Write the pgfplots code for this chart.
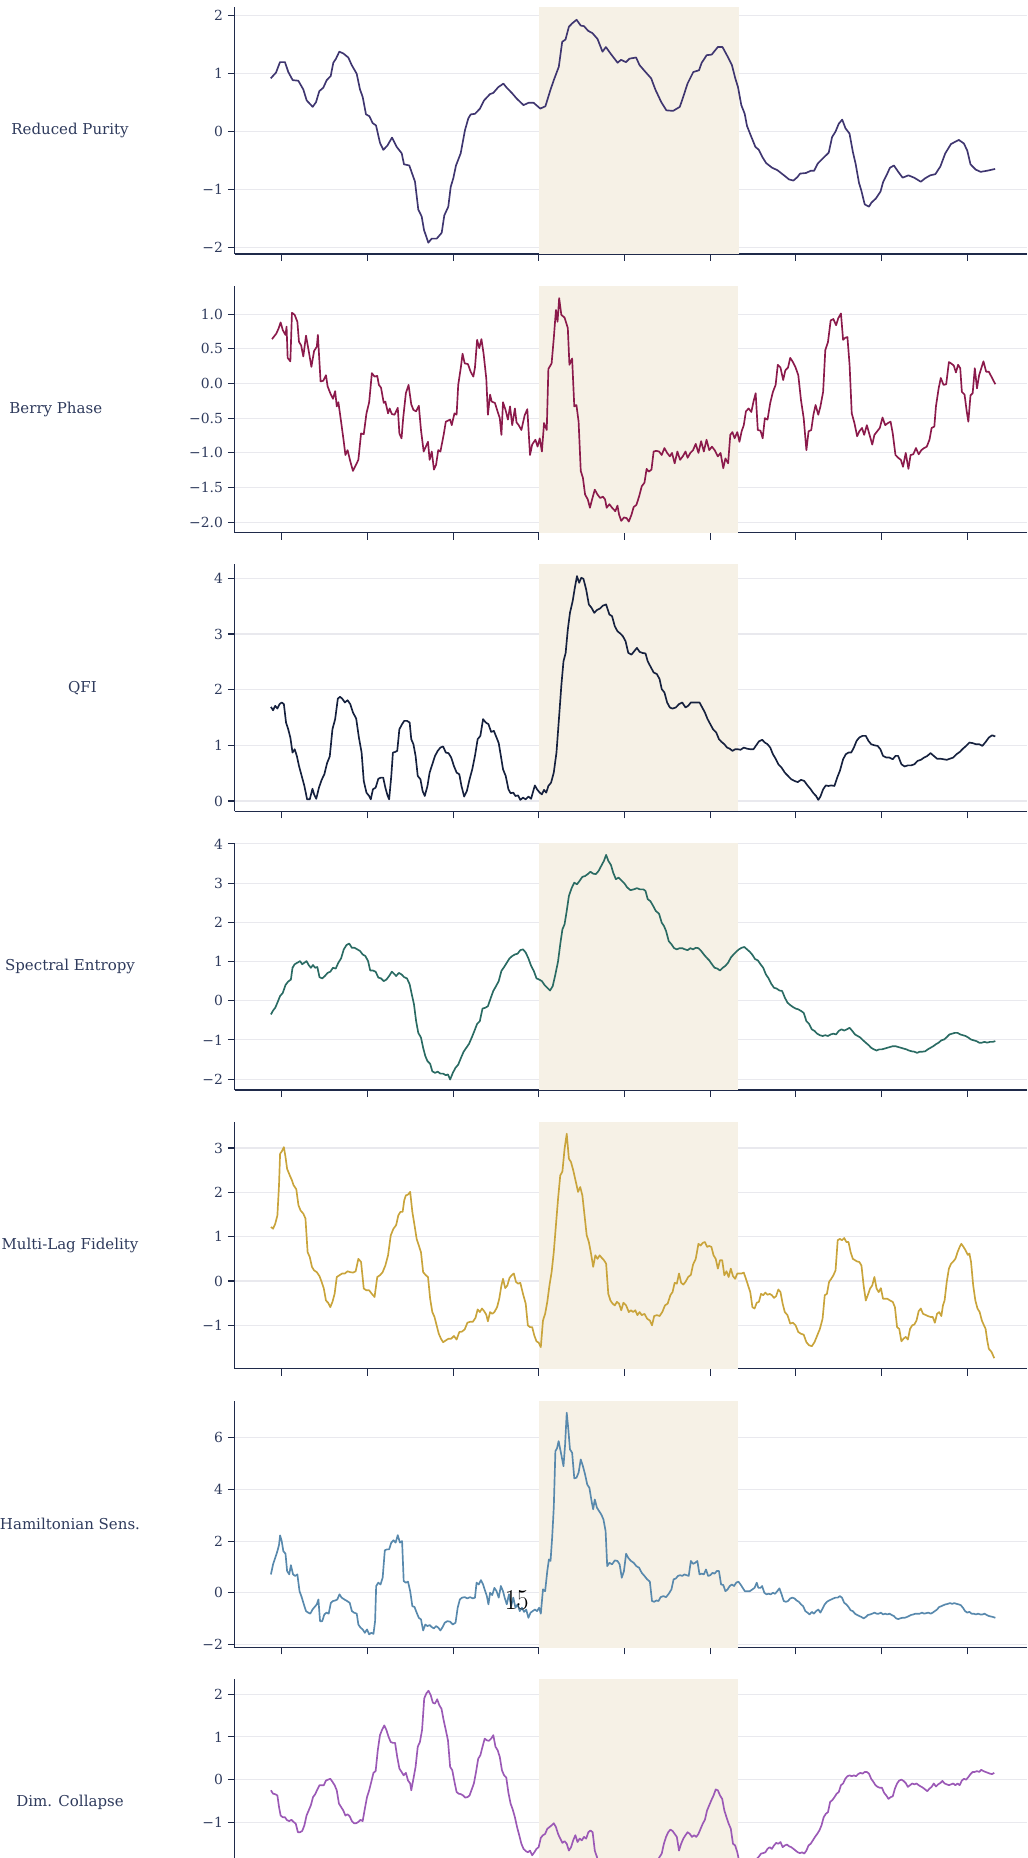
\documentclass[border=0pt]{standalone}
\usepackage{fontspec}
\setmainfont{DejaVu Serif}
\usepackage{pgfplots}
\pgfplotsset{compat=1.18}
\definecolor{spine}{HTML}{1F2A4A}
\definecolor{tickc}{HTML}{2E3A5C}
\definecolor{gridc}{HTML}{E9E9EE}
\definecolor{shadec}{HTML}{F6F1E6}
\definecolor{c1}{HTML}{3F3670}
\definecolor{c2}{HTML}{8B1A4B}
\definecolor{c3}{HTML}{16213E}
\definecolor{c4}{HTML}{2A6B63}
\definecolor{c5}{HTML}{C9A43B}
\definecolor{c6}{HTML}{5889AD}
\definecolor{c7}{HTML}{9B59B6}
\pgfplotsset{
 panel/.style={
  scale only axis, width=570.46pt, height=177.84pt, anchor=south west,
  axis x line*=bottom, axis y line*=left,
  axis line style={-, draw=spine, line width=0.9pt},
  tick align=outside, major tick length=5pt,
  major tick style={draw=spine, line width=0.8pt},
  xticklabels={},
  ymajorgrids, major grid style={draw=gridc, line width=0.8pt},
  yticklabel style={font=\fontsize{10}{12}\selectfont, text=tickc},
  set layers, clip=true,
 },
 zp/.style={xmin=100.9, xmax=1568.7, xtick={188,346.75,505.5,664.25,823,981.75,1140.5,1299.25,1458}},
 ln/.style={line width=1.2pt, line join=round, mark=none},
}
\begin{document}
\begin{tikzpicture}
% ---------- Panel 1: Reduced Purity
\begin{axis}[panel, at={(168.98pt,-182.88pt)},
  xmin=234.7, xmax=1027, xtick={281.7,367.39,453.08,538.77,624.46,710.15,795.84,881.53,967.22},
  ymin=-2.115, ymax=2.14, ytick={-2,-1,0,1,2}, yticklabels={−2,−1,0,1,2}]
\fill[shadec, on layer=axis background] (axis cs:538.9,-2.115) rectangle (axis cs:739,2.14);
\addplot[ln, c1] coordinates {(270.7,0.91)(276,1.01)(280,1.19)(285,1.19)(288.3,1.02)(292.7,0.88)(298.3,0.87)(303.3,0.72)(306.7,0.53)(312.7,0.42)(316,0.50)(319.3,0.69)(323.3,0.75)(326.7,0.88)(330.7,0.95)(333.3,1.18)(336,1.25)(339.3,1.37)(343.3,1.34)(348.3,1.27)(351.7,1.14)(356.7,0.99)(360,0.72)(362.7,0.59)(366,0.29)(369.3,0.26)(372.7,0.14)(376,0.10)(380,-0.20)(383.3,-0.32)(387.3,-0.25)(392,-0.11)(396.7,-0.27)(401.7,-0.38)(404,-0.57)(409.3,-0.59)(415,-0.87)(418.3,-1.35)(421.7,-1.47)(424,-1.70)(428.3,-1.92)(431.7,-1.85)(436.7,-1.85)(441.7,-1.75)(444.3,-1.45)(448.3,-1.30)(450.7,-0.96)(453.3,-0.81)(456,-0.59)(460.7,-0.38)(465,0.02)(468.3,0.22)(470.7,0.29)(475,0.30)(480,0.39)(484,0.53)(490,0.64)(493.3,0.66)(498.3,0.76)(503.4,0.82)(506.7,0.75)(511.8,0.66)(516.8,0.56)(523.5,0.45)(528.6,0.49)(533.6,0.49)(540.3,0.39)(545.4,0.43)(550.4,0.71)(553.8,0.88)(558.8,1.11)(562.2,1.54)(565.5,1.58)(568.9,1.80)(572.3,1.86)(576.6,1.92)(580.7,1.82)(584.0,1.81)(588.1,1.73)(592.4,1.69)(597.5,1.59)(602.5,1.37)(605.9,1.45)(610.9,1.33)(617.6,1.18)(621.0,1.23)(626.0,1.19)(629.4,1.25)(636.1,1.27)(639.5,1.14)(644.5,1.04)(651.2,0.91)(655.3,0.72)(661.3,0.50)(666.4,0.36)(673.1,0.35)(679.8,0.42)(683.2,0.59)(687.5,0.82)(693.3,1.02)(699.0,1.05)(701.7,1.18)(706.7,1.31)(711.7,1.32)(717.8,1.45)(722.5,1.45)(726.9,1.31)(731.9,1.14)(735.3,0.91)(738.0,0.76)(741.3,0.45)(744.7,0.30)(747.0,0.09)(751.4,-0.10)(755.4,-0.27)(758.8,-0.32)(762.2,-0.44)(766.2,-0.55)(772.2,-0.63)(777.3,-0.67)(784.0,-0.76)(789.0,-0.83)(793.4,-0.85)(797.4,-0.79)(800.1,-0.73)(805.9,-0.72)(810.9,-0.68)(814.2,-0.68)(817.6,-0.56)(822.7,-0.47)(828.7,-0.37)(832.1,-0.10)(835.4,-0.01)(838.8,0.13)(842.2,0.20)(845.5,0.05)(849.5,-0.04)(852.9,-0.36)(855.6,-0.56)(859.0,-0.89)(861.3,-1.02)(864.7,-1.26)(869.0,-1.30)(871.4,-1.23)(875.8,-1.16)(880.5,-1.04)(883.2,-0.87)(886.5,-0.76)(889.9,-0.63)(893.9,-0.59)(898.3,-0.70)(902.6,-0.80)(908.4,-0.76)(914.1,-0.80)(920.8,-0.87)(925.2,-0.81)(930.2,-0.76)(935.3,-0.74)(940.3,-0.61)(945.3,-0.38)(951.0,-0.22)(958.8,-0.15)(963.8,-0.21)(967.2,-0.33)(970.5,-0.57)(975.6,-0.66)(980.6,-0.70)(987.3,-0.68)(995.1,-0.65)};
\end{axis}
% ---------- Panel 2: Berry Phase
\begin{axis}[panel, zp, at={(168.98pt,-383.54pt)},
  ymin=-2.15, ymax=1.41, ytick={-2,-1.5,-1,-0.5,0,0.5,1}, yticklabels={−2.0,−1.5,−1.0,−0.5,0.0,0.5,1.0}]
\fill[shadec, on layer=axis background] (axis cs:665,-2.15) rectangle (axis cs:1034,1.41);
\addplot[ln, c2] coordinates {(170,0.64)(178,0.72)(182,0.79)(186,0.88)(190,0.77)(195,0.70)(197,0.82)(199,0.37)(204,0.32)(207,1.02)(212,0.99)(217,0.89)(220,0.60)(224,0.55)(228,0.39)(233,0.69)(238,0.47)(243,0.24)(248,0.47)(253,0.53)(255,0.70)(260,0.03)(265,0.04)(270,0.12)(273,-0.04)(278,-0.14)(283,-0.22)(287,-0.11)(290,-0.33)(293,-0.27)(298,-0.55)(303,-0.84)(306,-1.03)(310,-0.96)(315,-1.12)(320,-1.26)(325,-1.18)(330,-1.10)(335,-0.72)(340,-0.73)(345,-0.43)(350,-0.27)(355,0.15)(360,0.10)(365,0.11)(368,-0.02)(372,-0.06)(377,-0.28)(380,-0.26)(385,-0.43)(388,-0.36)(392,-0.44)(397,-0.45)(403,-0.35)(406,-0.72)(410,-0.79)(413,-0.50)(418,-0.14)(423,-0.02)(428,-0.30)(432,-0.38)(437,-0.40)(442,-0.32)(446,-0.67)(451,-0.98)(455,-0.91)(459,-0.84)(462,-1.10)(466,-0.98)(470,-1.24)(474,-1.17)(478,-0.96)(482,-0.98)(488,-0.74)(492,-0.55)(500,-0.52)(503,-0.60)(508,-0.43)(512,-0.45)(515,-0.02)(520,0.24)(523,0.43)(527,0.29)(533,0.28)(538,0.17)(543,0.10)(546,0.23)(550,0.63)(554,0.51)(558,0.64)(562,0.43)(567,0.07)(570,-0.45)(574,-0.16)(577,-0.26)(583,-0.28)(587,-0.38)(592,-0.50)(595,-0.74)(598,-0.27)(603,-0.39)(607,-0.52)(611,-0.33)(615,-0.60)(620,-0.36)(623,-0.56)(627,-0.60)(632,-0.67)(638,-0.46)(643,-0.37)(648,-1.03)(652,-0.88)(658,-0.81)(662,-0.91)(666,-0.79)(670,-0.98)(674,-0.57)(679,-0.67)(682,0.21)(688,0.29)(692,0.65)(696,1.06)(699,0.89)(702,1.23)(706,0.99)(712,0.95)(718,0.80)(721,0.27)(726,0.36)(730,-0.33)(734,-0.31)(738,-0.55)(742,-1.26)(746,-1.36)(750,-1.60)(755,-1.67)(759,-1.79)(763,-1.67)(768,-1.53)(773,-1.60)(778,-1.65)(783,-1.63)(787,-1.67)(790,-1.79)(795,-1.74)(800,-1.79)(806,-1.84)(810,-1.76)(813,-1.89)(817,-1.98)(822,-1.93)(827,-1.94)(831,-1.99)(836,-1.89)(840,-1.78)(845,-1.75)(850,-1.63)(855,-1.48)(860,-1.43)(864,-1.23)(868,-1.27)(873,-1.24)(877,-0.98)(882,-0.97)(887,-0.98)(892,-1.03)(897,-0.93)(902,-1.00)(907,-1.05)(911,-1.00)(916,-1.15)(921,-0.98)(926,-1.10)(931,-1.05)(936,-0.98)(940,-1.07)(945,-1.00)(950,-0.96)(955,-0.87)(960,-1.00)(965,-0.83)(970,-0.98)(975,-0.81)(980,-0.96)(985,-0.91)(990,-0.96)(996,-1.05)(1001,-1.00)(1006,-1.22)(1010,-1.08)(1015,-1.15)(1019,-0.74)(1023,-0.70)(1027,-0.79)(1032,-0.70)(1036,-0.84)(1040,-0.69)(1044,-0.60)(1048,-0.40)(1053,-0.36)(1058,-0.41)(1062,-0.26)(1066,-0.14)(1070,-0.67)(1075,-0.68)(1079,-0.79)(1083,-0.50)(1088,-0.52)(1093,-0.28)(1098,-0.12)(1103,-0.02)(1107,0.27)(1112,0.23)(1117,0.05)(1121,0.19)(1126,0.23)(1130,0.37)(1135,0.31)(1140,0.23)(1145,0.12)(1150,-0.24)(1155,-0.50)(1160,-0.96)(1164,-0.69)(1169,-0.67)(1173,-0.45)(1177,-0.31)(1182,-0.45)(1186,-0.33)(1191,-0.12)(1195,0.48)(1200,0.60)(1205,0.91)(1210,0.93)(1215,0.84)(1219,0.94)(1224,1.01)(1228,0.63)(1232,0.66)(1236,0.67)(1240,0.27)(1244,-0.43)(1249,-0.57)(1254,-0.76)(1258,-0.69)(1263,-0.64)(1267,-0.74)(1272,-0.60)(1277,-0.74)(1282,-0.88)(1286,-0.74)(1291,-0.69)(1296,-0.64)(1301,-0.49)(1306,-0.60)(1311,-0.57)(1316,-0.55)(1320,-0.72)(1325,-1.03)(1330,-1.07)(1335,-1.10)(1339,-1.20)(1344,-1.00)(1349,-1.23)(1353,-1.03)(1358,-1.02)(1363,-0.93)(1368,-1.02)(1373,-0.96)(1378,-0.93)(1383,-0.91)(1388,-0.81)(1392,-0.64)(1397,-0.62)(1400,-0.33)(1405,-0.07)(1409,0.08)(1414,-0.02)(1419,-0.01)(1424,0.31)(1428,0.29)(1433,0.26)(1437,0.16)(1441,0.27)(1445,0.22)(1448,-0.12)(1453,-0.16)(1457,-0.40)(1460,-0.55)(1464,-0.17)(1468,-0.14)(1472,0.22)(1476,-0.07)(1480,0.12)(1484,0.22)(1488,0.32)(1493,0.17)(1498,0.17)(1504,0.08)(1510,-0.01)};
\end{axis}
% ---------- Panel 3: QFI
\begin{axis}[panel, zp, at={(168.98pt,-584.21pt)},
  ymin=-0.187, ymax=4.25, ytick={0,1,2,3,4}, yticklabels={0,1,2,3,4}]
\fill[shadec, on layer=axis background] (axis cs:665,-0.187) rectangle (axis cs:1034,4.25);
\addplot[ln, c3] coordinates {(168,1.69)(172,1.63)(176,1.71)(180,1.66)(184,1.74)(188,1.77)(192,1.74)(196,1.41)(200,1.29)(204,1.14)(208,0.87)(212,0.93)(216,0.81)(220,0.63)(225,0.45)(230,0.27)(235,0.03)(240,0.03)(245,0.22)(248,0.12)(252,0.04)(257,0.24)(262,0.38)(267,0.48)(272,0.68)(277,0.80)(282,1.29)(287,1.47)(292,1.84)(296,1.87)(300,1.84)(305,1.77)(310,1.81)(315,1.74)(320,1.59)(326,1.48)(331,1.14)(336,0.87)(340,0.36)(345,0.15)(350,0.09)(353,0.03)(357,0.21)(362,0.24)(367,0.40)(372,0.42)(376,0.42)(380,0.24)(384,0.10)(387,0.03)(391,0.45)(394,0.87)(398,0.88)(402,0.90)(406,1.29)(411,1.38)(415,1.44)(420,1.44)(425,1.41)(428,1.11)(432,1.02)(436,0.81)(440,0.45)(445,0.39)(449,0.18)(453,0.09)(458,0.27)(462,0.51)(467,0.66)(472,0.81)(477,0.90)(482,0.96)(487,0.98)(492,0.87)(497,0.86)(502,0.78)(507,0.63)(512,0.51)(517,0.48)(521,0.27)(526,0.08)(531,0.18)(536,0.39)(541,0.57)(546,0.81)(551,1.11)(556,1.17)(561,1.47)(566,1.41)(571,1.38)(576,1.24)(581,1.26)(586,1.14)(590,1.04)(594,0.81)(598,0.57)(603,0.45)(608,0.21)(612,0.14)(617,0.15)(621,0.09)(626,0.10)(630,0.02)(635,0.06)(640,0.03)(645,0.08)(650,0.04)(654,0.18)(657,0.28)(661,0.21)(666,0.15)(670,0.12)(674,0.20)(678,0.15)(682,0.27)(687,0.33)(692,0.51)(697,0.87)(702,1.53)(706,2.07)(710,2.51)(714,2.66)(718,3.08)(722,3.38)(727,3.59)(731,3.83)(735,4.04)(739,3.92)(743,4.01)(747,3.99)(752,3.80)(757,3.53)(762,3.47)(767,3.38)(772,3.43)(778,3.46)(783,3.51)(789,3.53)(795,3.35)(800,3.32)(805,3.14)(810,3.05)(815,3.01)(820,2.96)(825,2.87)(830,2.66)(836,2.63)(841,2.69)(846,2.75)(851,2.68)(856,2.66)(862,2.65)(866,2.51)(872,2.40)(877,2.31)(883,2.28)(888,2.19)(892,2.01)(897,1.95)(902,1.77)(907,1.68)(912,1.66)(918,1.68)(924,1.74)(930,1.77)(936,1.68)(941,1.71)(946,1.77)(951,1.77)(956,1.77)(962,1.77)(967,1.68)(972,1.59)(977,1.47)(982,1.38)(987,1.29)(993,1.23)(998,1.11)(1003,1.06)(1008,1.02)(1013,0.96)(1018,0.94)(1023,0.90)(1028,0.93)(1033,0.93)(1038,0.92)(1044,0.96)(1050,0.94)(1056,0.93)(1062,0.93)(1067,1.00)(1072,1.07)(1078,1.10)(1083,1.05)(1088,1.02)(1093,0.96)(1098,0.84)(1103,0.76)(1108,0.66)(1114,0.60)(1120,0.51)(1126,0.45)(1132,0.39)(1138,0.36)(1144,0.34)(1150,0.38)(1156,0.36)(1162,0.28)(1168,0.21)(1173,0.14)(1178,0.09)(1182,0.02)(1186,0.08)(1191,0.21)(1196,0.28)(1201,0.27)(1206,0.28)(1212,0.27)(1217,0.42)(1222,0.54)(1228,0.75)(1233,0.84)(1238,0.87)(1243,0.87)(1248,0.96)(1253,1.08)(1258,1.14)(1264,1.17)(1270,1.17)(1275,1.08)(1280,1.02)(1286,1.00)(1292,0.99)(1297,0.93)(1302,0.81)(1308,0.78)(1314,0.78)(1320,0.75)(1325,0.81)(1330,0.81)(1336,0.66)(1342,0.62)(1348,0.64)(1354,0.64)(1360,0.66)(1366,0.72)(1372,0.74)(1378,0.78)(1384,0.81)(1390,0.86)(1396,0.81)(1402,0.76)(1408,0.76)(1414,0.75)(1420,0.74)(1426,0.76)(1432,0.78)(1438,0.84)(1444,0.88)(1450,0.94)(1456,0.99)(1462,1.05)(1468,1.04)(1474,1.02)(1480,1.02)(1486,0.99)(1492,1.06)(1498,1.14)(1504,1.18)(1510,1.16)};
\end{axis}
% ---------- Panel 4: Spectral Entropy
\begin{axis}[panel, zp, at={(168.98pt,-784.87pt)},
  ymin=-2.28, ymax=4.02, ytick={-2,-1,0,1,2,3,4}, yticklabels={−2,−1,0,1,2,3,4}]
\fill[shadec, on layer=axis background] (axis cs:665,-2.28) rectangle (axis cs:1034,4.02);
\addplot[ln, c4] coordinates {(168,-0.35)(172,-0.25)(176,-0.18)(180,-0.05)(185,0.12)(190,0.20)(195,0.40)(200,0.49)(205,0.54)(208,0.84)(212,0.93)(217,0.97)(222,1.01)(226,0.93)(230,0.97)(234,1.01)(238,0.91)(242,0.84)(246,0.91)(250,0.84)(254,0.86)(258,0.60)(263,0.57)(268,0.63)(273,0.71)(278,0.74)(283,0.84)(288,0.82)(293,0.97)(298,1.08)(303,1.31)(308,1.42)(313,1.46)(318,1.35)(323,1.35)(328,1.31)(333,1.27)(338,1.18)(343,1.14)(348,1.01)(352,0.77)(357,0.77)(362,0.74)(367,0.59)(372,0.57)(377,0.50)(382,0.54)(387,0.63)(392,0.74)(396,0.69)(400,0.63)(405,0.71)(410,0.67)(415,0.60)(420,0.57)(425,0.42)(429,0.16)(433,-0.09)(437,-0.52)(441,-0.82)(446,-0.94)(450,-1.20)(454,-1.41)(458,-1.54)(463,-1.61)(467,-1.80)(472,-1.84)(477,-1.81)(482,-1.86)(487,-1.86)(492,-1.90)(496,-1.88)(500,-2.01)(505,-1.84)(510,-1.71)(515,-1.63)(520,-1.46)(525,-1.30)(530,-1.20)(535,-1.10)(540,-0.94)(545,-0.77)(550,-0.59)(555,-0.52)(560,-0.20)(565,-0.18)(570,-0.14)(575,0.06)(580,0.25)(585,0.37)(590,0.50)(595,0.76)(600,0.86)(605,0.97)(610,1.08)(615,1.14)(620,1.18)(625,1.20)(630,1.29)(635,1.31)(640,1.23)(645,1.08)(650,0.89)(655,0.76)(660,0.57)(665,0.54)(670,0.50)(675,0.40)(680,0.33)(685,0.26)(690,0.37)(695,0.67)(700,1.01)(704,1.44)(708,1.82)(712,1.95)(716,2.29)(720,2.67)(725,2.87)(730,3.01)(735,2.97)(740,3.06)(745,3.16)(750,3.18)(755,3.23)(760,3.29)(765,3.24)(770,3.23)(775,3.31)(780,3.44)(785,3.57)(789,3.72)(793,3.57)(798,3.46)(802,3.27)(807,3.10)(812,3.14)(818,3.06)(823,2.99)(828,2.89)(834,2.82)(840,2.84)(846,2.87)(852,2.84)(858,2.84)(862,2.80)(866,2.59)(871,2.54)(876,2.42)(881,2.29)(887,2.22)(892,1.99)(896,1.91)(900,1.78)(905,1.52)(910,1.44)(915,1.34)(920,1.31)(925,1.34)(930,1.34)(935,1.31)(940,1.29)(945,1.34)(950,1.31)(955,1.35)(960,1.34)(965,1.27)(970,1.18)(975,1.10)(980,1.03)(985,0.93)(990,0.84)(995,0.82)(1000,0.77)(1005,0.84)(1010,0.89)(1015,0.97)(1020,1.10)(1025,1.18)(1030,1.25)(1035,1.31)(1040,1.35)(1045,1.37)(1050,1.31)(1055,1.25)(1060,1.17)(1065,1.06)(1070,1.03)(1075,0.93)(1080,0.84)(1085,0.67)(1090,0.57)(1095,0.43)(1100,0.33)(1105,0.31)(1110,0.26)(1115,0.25)(1120,0.08)(1125,-0.05)(1130,-0.11)(1135,-0.16)(1140,-0.20)(1145,-0.22)(1150,-0.26)(1155,-0.31)(1160,-0.52)(1165,-0.59)(1170,-0.73)(1175,-0.77)(1180,-0.84)(1185,-0.88)(1190,-0.90)(1195,-0.88)(1200,-0.90)(1205,-0.86)(1210,-0.84)(1215,-0.86)(1220,-0.77)(1225,-0.73)(1230,-0.76)(1235,-0.73)(1240,-0.69)(1245,-0.77)(1250,-0.86)(1255,-0.90)(1260,-0.94)(1265,-1.01)(1270,-1.07)(1275,-1.13)(1280,-1.20)(1285,-1.24)(1290,-1.27)(1295,-1.24)(1300,-1.24)(1305,-1.22)(1310,-1.20)(1315,-1.18)(1320,-1.16)(1325,-1.16)(1330,-1.18)(1335,-1.20)(1340,-1.22)(1345,-1.24)(1350,-1.27)(1355,-1.29)(1360,-1.30)(1365,-1.33)(1370,-1.30)(1375,-1.30)(1380,-1.29)(1385,-1.24)(1390,-1.20)(1395,-1.16)(1400,-1.11)(1405,-1.07)(1410,-1.01)(1415,-0.99)(1420,-0.93)(1425,-0.86)(1430,-0.84)(1435,-0.82)(1440,-0.82)(1445,-0.86)(1450,-0.88)(1455,-0.90)(1460,-0.94)(1465,-0.99)(1470,-1.01)(1475,-1.03)(1480,-1.07)(1485,-1.07)(1490,-1.05)(1495,-1.07)(1500,-1.05)(1505,-1.05)(1510,-1.03)};
\end{axis}
% ---------- Panel 5: Multi-Lag Fidelity
\begin{axis}[panel, zp, at={(168.98pt,-985.54pt)},
  ymin=-1.98, ymax=3.59, ytick={-1,0,1,2,3}, yticklabels={−1,0,1,2,3}]
\fill[shadec, on layer=axis background] (axis cs:665,-1.98) rectangle (axis cs:1034,3.59);
\addplot[ln, c5] coordinates {(168,1.22)(172,1.18)(176,1.29)(180,1.48)(183,2.16)(185,2.87)(188,2.92)(192,3.02)(195,2.80)(198,2.53)(203,2.38)(207,2.27)(210,2.16)(215,2.07)(219,1.71)(223,1.59)(228,1.52)(232,1.41)(236,0.65)(240,0.54)(244,0.32)(248,0.24)(253,0.20)(258,0.11)(262,-0.02)(266,-0.17)(270,-0.44)(274,-0.49)(278,-0.59)(282,-0.47)(286,-0.29)(290,0.09)(295,0.13)(300,0.17)(305,0.17)(310,0.22)(315,0.20)(320,0.19)(325,0.22)(330,0.50)(335,0.43)(340,-0.17)(345,-0.21)(350,-0.21)(355,-0.29)(360,-0.36)(365,0.09)(370,0.13)(375,0.20)(380,0.35)(385,0.58)(390,1.03)(395,1.18)(400,1.26)(404,1.48)(408,1.56)(412,1.56)(415,1.82)(418,1.93)(422,1.95)(426,2.01)(430,1.56)(434,1.26)(438,0.95)(442,0.80)(446,0.65)(450,0.20)(455,0.13)(459,0.09)(463,-0.40)(467,-0.70)(471,-0.81)(475,-1.00)(479,-1.19)(483,-1.30)(487,-1.38)(492,-1.34)(497,-1.30)(502,-1.30)(507,-1.24)(512,-1.32)(517,-1.15)(522,-1.14)(527,-1.09)(532,-0.94)(537,-0.92)(542,-0.92)(547,-0.83)(551,-0.64)(555,-0.70)(559,-0.62)(563,-0.68)(567,-0.76)(570,-0.91)(574,-0.70)(578,-0.74)(582,-0.70)(587,-0.59)(591,-0.40)(595,-0.10)(598,0.05)(602,-0.16)(606,-0.10)(610,0.07)(614,0.13)(618,0.17)(622,-0.02)(626,-0.06)(630,-0.04)(635,-0.29)(640,-0.51)(644,-1.00)(648,-1.04)(652,-1.04)(656,-1.23)(660,-1.36)(664,-1.39)(668,-1.49)(672,-0.89)(676,-0.74)(680,-0.47)(684,-0.10)(688,0.20)(692,0.65)(696,1.26)(700,1.86)(704,2.38)(708,2.47)(712,2.98)(716,3.32)(720,2.76)(724,2.68)(728,2.50)(733,2.23)(737,2.01)(741,2.12)(745,1.93)(749,1.48)(753,1.03)(757,0.88)(761,0.62)(765,0.32)(769,0.58)(773,0.50)(777,0.58)(781,0.52)(785,0.47)(789,0.39)(793,-0.29)(797,-0.44)(801,-0.51)(805,-0.55)(809,-0.47)(813,-0.51)(817,-0.66)(821,-0.49)(826,-0.55)(831,-0.70)(835,-0.66)(839,-0.70)(843,-0.66)(847,-0.77)(851,-0.70)(855,-0.77)(860,-0.74)(865,-0.85)(870,-0.89)(874,-1.00)(878,-0.79)(883,-0.77)(888,-0.79)(893,-0.70)(898,-0.55)(903,-0.51)(908,-0.32)(912,-0.25)(916,-0.04)(920,-0.06)(924,0.17)(928,-0.04)(932,-0.08)(936,-0.02)(941,0.09)(946,0.14)(950,0.37)(955,0.50)(960,0.84)(964,0.80)(968,0.86)(972,0.88)(976,0.77)(980,0.79)(984,0.77)(988,0.58)(992,0.50)(996,0.28)(1000,0.47)(1004,0.47)(1008,0.13)(1012,0.22)(1016,0.09)(1020,0.28)(1024,0.11)(1028,0.05)(1032,0.17)(1036,0.17)(1040,0.17)(1044,0.19)(1048,0.05)(1052,-0.10)(1056,-0.25)(1060,-0.59)(1064,-0.62)(1068,-0.49)(1072,-0.47)(1076,-0.29)(1080,-0.32)(1084,-0.26)(1088,-0.31)(1092,-0.29)(1096,-0.32)(1100,-0.38)(1104,-0.34)(1108,-0.19)(1112,-0.25)(1116,-0.51)(1120,-0.70)(1125,-0.77)(1130,-0.96)(1135,-0.94)(1140,-1.00)(1145,-1.15)(1150,-1.19)(1155,-1.21)(1160,-1.38)(1165,-1.45)(1170,-1.47)(1175,-1.38)(1180,-1.23)(1185,-1.08)(1190,-0.85)(1194,-0.32)(1198,-0.29)(1202,-0.02)(1206,0.05)(1210,0.13)(1214,0.24)(1218,0.92)(1222,0.95)(1226,0.92)(1230,0.97)(1234,0.88)(1238,0.88)(1242,0.65)(1246,0.50)(1250,0.47)(1254,0.44)(1258,0.43)(1262,0.35)(1266,-0.10)(1270,-0.44)(1274,-0.31)(1278,-0.17)(1282,-0.10)(1286,0.09)(1290,-0.17)(1294,-0.25)(1298,-0.16)(1302,-0.40)(1306,-0.40)(1310,-0.40)(1315,-0.44)(1320,-0.47)(1324,-0.59)(1328,-1.04)(1332,-1.08)(1336,-1.36)(1340,-1.30)(1344,-1.26)(1348,-1.32)(1352,-1.08)(1356,-1.00)(1360,-0.98)(1364,-0.89)(1368,-0.68)(1372,-0.62)(1376,-0.74)(1380,-0.76)(1385,-0.79)(1390,-0.81)(1394,-0.81)(1398,-0.94)(1402,-0.74)(1406,-0.70)(1410,-0.79)(1413,-0.55)(1416,-0.44)(1420,-0.02)(1424,0.28)(1428,0.39)(1432,0.44)(1436,0.50)(1440,0.65)(1444,0.77)(1447,0.84)(1451,0.77)(1455,0.69)(1459,0.59)(1462,0.62)(1465,0.43)(1469,-0.10)(1473,-0.44)(1477,-0.62)(1481,-0.70)(1485,-0.89)(1489,-1.00)(1492,-1.08)(1495,-1.34)(1498,-1.53)(1503,-1.60)(1508,-1.74)};
\end{axis}
% ---------- Panel 6: Hamiltonian Sens.
\begin{axis}[panel, zp, at={(168.98pt,-1186.2pt)},
  ymin=-2.12, ymax=7.44, ytick={-2,0,2,4,6}, yticklabels={−2,0,2,4,6}]
\fill[shadec, on layer=axis background] (axis cs:665,-2.12) rectangle (axis cs:1034,7.44);
\addplot[ln, c6] coordinates {(168,0.71)(172,1.10)(176,1.35)(180,1.61)(183,1.85)(185,2.22)(188,2.00)(191,1.61)(195,1.51)(198,0.84)(202,0.71)(205,1.07)(209,0.71)(213,0.65)(217,0.71)(221,0.06)(225,-0.17)(229,-0.45)(233,-0.71)(237,-0.77)(241,-0.81)(245,-0.65)(249,-0.55)(253,-0.45)(256,-0.26)(259,-1.10)(263,-1.10)(267,-0.84)(271,-0.77)(275,-0.81)(279,-0.39)(283,-0.32)(287,-0.30)(291,-0.26)(295,-0.06)(299,-0.19)(304,-0.26)(309,-0.32)(314,-0.39)(318,-0.71)(322,-0.77)(327,-0.81)(330,-1.23)(334,-1.35)(338,-1.42)(342,-1.55)(346,-1.42)(350,-1.61)(354,-1.55)(358,-1.59)(361,-1.10)(363,0.26)(367,0.39)(371,0.32)(375,0.58)(379,1.64)(383,1.68)(387,1.68)(391,1.94)(395,2.03)(399,1.94)(403,2.23)(407,1.94)(411,2.00)(414,0.45)(418,0.39)(422,0.43)(426,0.06)(430,-0.52)(434,-0.55)(438,-0.77)(442,-0.97)(446,-1.03)(450,-1.46)(454,-1.23)(458,-1.29)(462,-1.25)(466,-1.33)(470,-1.38)(474,-1.29)(478,-1.35)(482,-1.46)(486,-1.33)(490,-1.16)(495,-1.10)(500,-1.12)(505,-1.23)(510,-1.16)(514,-0.58)(518,-0.26)(522,-0.19)(527,-0.17)(532,-0.22)(537,-0.17)(542,-0.22)(546,-0.19)(549,0.39)(553,0.32)(557,0.49)(561,0.32)(565,0.06)(568,-0.13)(571,-0.45)(574,0.00)(578,-0.09)(582,0.19)(586,0.06)(590,-0.19)(594,0.26)(598,0.06)(601,-0.19)(605,-0.45)(609,-0.06)(613,-0.52)(617,-0.19)(621,-0.58)(625,-0.45)(629,-0.71)(633,-0.58)(637,-0.74)(641,-0.65)(645,-0.97)(649,-0.77)(653,-0.71)(657,-0.65)(661,-0.71)(665,-0.58)(668,-0.81)(672,0.13)(676,0.06)(680,0.84)(683,1.29)(686,1.23)(689,2.13)(692,3.29)(695,5.48)(698,5.59)(701,5.87)(704,5.55)(707,5.23)(710,4.90)(713,5.74)(716,6.97)(719,6.32)(722,5.55)(726,5.42)(730,4.43)(734,4.45)(738,4.65)(742,5.16)(746,4.90)(750,4.58)(754,4.19)(758,4.06)(762,3.55)(765,3.23)(768,3.61)(772,3.29)(776,3.16)(780,3.03)(784,2.84)(788,2.39)(791,1.03)(795,1.16)(800,1.10)(805,1.25)(810,1.23)(814,1.10)(818,0.58)(822,0.84)(826,1.51)(830,1.35)(835,1.23)(840,1.16)(845,1.03)(850,0.97)(855,0.77)(860,0.65)(865,0.52)(870,0.43)(874,-0.32)(878,-0.35)(882,-0.30)(886,-0.32)(890,-0.17)(895,-0.13)(900,-0.17)(905,-0.04)(910,0.13)(914,0.52)(918,0.55)(922,0.65)(926,0.68)(930,0.65)(934,0.71)(938,0.68)(942,0.65)(946,1.23)(950,1.12)(954,1.16)(958,1.23)(962,0.71)(966,0.74)(970,0.71)(974,0.90)(978,0.65)(982,0.68)(986,0.77)(990,0.74)(994,0.84)(998,0.84)(1002,0.32)(1006,0.30)(1010,0.06)(1014,0.13)(1018,0.26)(1022,0.32)(1026,0.26)(1030,0.39)(1034,0.43)(1038,0.32)(1042,0.19)(1046,0.06)(1050,0.06)(1055,0.06)(1060,0.13)(1064,0.19)(1068,0.39)(1071,0.19)(1075,0.19)(1078,0.26)(1082,0.00)(1086,-0.06)(1090,-0.04)(1094,-0.06)(1098,0.00)(1102,-0.04)(1106,0.06)(1110,0.17)(1114,-0.06)(1118,-0.32)(1122,-0.35)(1126,-0.32)(1130,-0.22)(1134,-0.19)(1138,-0.22)(1142,-0.30)(1146,-0.35)(1150,-0.45)(1154,-0.52)(1158,-0.71)(1162,-0.77)(1166,-0.84)(1170,-0.74)(1174,-0.81)(1178,-0.71)(1182,-0.65)(1186,-0.77)(1190,-0.61)(1194,-0.45)(1198,-0.35)(1202,-0.30)(1206,-0.26)(1210,-0.22)(1214,-0.19)(1218,-0.19)(1222,-0.13)(1226,-0.19)(1230,-0.39)(1234,-0.45)(1238,-0.55)(1242,-0.68)(1246,-0.71)(1250,-0.81)(1254,-0.86)(1258,-0.90)(1262,-0.94)(1266,-0.99)(1270,-0.94)(1274,-0.86)(1278,-0.84)(1282,-0.81)(1286,-0.77)(1290,-0.81)(1294,-0.81)(1298,-0.77)(1302,-0.84)(1306,-0.81)(1310,-0.84)(1314,-0.81)(1318,-0.86)(1322,-0.90)(1326,-0.99)(1330,-1.02)(1334,-0.99)(1338,-0.97)(1342,-0.97)(1346,-0.94)(1350,-0.90)(1354,-0.86)(1358,-0.84)(1362,-0.81)(1366,-0.81)(1370,-0.81)(1374,-0.77)(1378,-0.81)(1382,-0.79)(1386,-0.77)(1390,-0.81)(1394,-0.77)(1398,-0.71)(1402,-0.65)(1406,-0.55)(1410,-0.52)(1414,-0.48)(1418,-0.45)(1422,-0.43)(1426,-0.40)(1430,-0.43)(1434,-0.40)(1438,-0.43)(1442,-0.45)(1446,-0.48)(1450,-0.58)(1454,-0.71)(1458,-0.77)(1462,-0.74)(1466,-0.81)(1470,-0.81)(1474,-0.84)(1478,-0.81)(1482,-0.84)(1486,-0.84)(1490,-0.81)(1494,-0.86)(1498,-0.90)(1502,-0.92)(1506,-0.94)(1510,-0.97)};
\end{axis}
% ---------- Panel 7: Dim. Collapse
\begin{axis}[panel, zp, at={(168.98pt,-1386.86pt)},
  ymin=-3.43, ymax=2.35, ytick={-3,-2,-1,0,1,2}, yticklabels={−3,−2,−1,0,1,2}]
\fill[shadec, on layer=axis background] (axis cs:665,-3.43) rectangle (axis cs:1034,2.35);
\addplot[ln, c7] coordinates {(168,-0.25)(172,-0.33)(176,-0.34)(180,-0.37)(183,-0.64)(186,-0.84)(190,-0.88)(194,-0.88)(198,-0.95)(202,-0.97)(206,-0.94)(210,-0.99)(214,-1.03)(218,-1.23)(222,-1.23)(226,-1.20)(230,-1.07)(234,-0.84)(238,-0.72)(242,-0.60)(246,-0.41)(250,-0.34)(254,-0.23)(258,-0.13)(262,-0.13)(266,-0.13)(270,-0.02)(274,0.00)(278,0.02)(282,-0.05)(286,-0.13)(290,-0.25)(294,-0.56)(298,-0.64)(302,-0.72)(306,-0.84)(310,-0.81)(314,-0.86)(318,-0.97)(322,-1.02)(326,-1.02)(330,-0.99)(334,-0.94)(338,-0.97)(342,-0.68)(346,-0.41)(350,-0.25)(354,-0.05)(358,0.16)(362,0.20)(366,0.69)(370,1.04)(374,1.17)(378,1.27)(382,1.16)(386,1.00)(390,0.88)(394,0.86)(398,0.86)(402,0.53)(406,0.26)(410,0.18)(414,0.10)(418,0.16)(422,-0.02)(426,-0.09)(428,-0.25)(432,0.02)(436,0.30)(440,0.77)(444,0.88)(448,1.16)(452,1.90)(456,2.02)(460,2.08)(464,1.98)(468,1.80)(472,1.78)(476,1.88)(480,1.74)(484,1.66)(488,1.39)(492,1.16)(496,0.92)(500,0.30)(504,0.22)(508,-0.05)(512,-0.29)(516,-0.33)(520,-0.34)(524,-0.37)(528,-0.42)(532,-0.41)(536,-0.37)(540,-0.23)(544,-0.09)(548,0.18)(552,0.49)(556,0.57)(560,0.77)(564,0.96)(568,0.92)(572,0.91)(576,0.96)(580,1.04)(584,0.77)(588,0.69)(592,0.53)(596,0.22)(600,0.10)(604,0.05)(608,-0.31)(612,-0.56)(616,-0.70)(620,-0.88)(624,-1.11)(628,-1.30)(632,-1.50)(636,-1.62)(640,-1.67)(644,-1.70)(648,-1.66)(652,-1.77)(656,-1.70)(660,-1.62)(664,-1.58)(668,-1.36)(672,-1.30)(676,-1.27)(680,-1.15)(684,-1.11)(688,-1.07)(692,-1.02)(696,-1.11)(700,-1.27)(704,-1.38)(708,-1.48)(712,-1.44)(716,-1.50)(720,-1.66)(724,-1.58)(728,-1.42)(732,-1.30)(736,-1.46)(740,-1.38)(744,-1.42)(748,-1.34)(752,-1.38)(756,-1.23)(760,-1.19)(764,-1.23)(768,-1.66)(772,-1.81)(778,-2.15)(784,-2.45)(790,-2.60)(796,-2.80)(802,-2.95)(808,-3.05)(814,-3.10)(820,-3.17)(826,-3.05)(832,-2.95)(838,-2.85)(844,-2.90)(850,-2.95)(856,-2.75)(862,-2.55)(868,-2.35)(874,-2.15)(880,-1.98)(888,-1.81)(892,-1.73)(896,-1.50)(900,-1.34)(904,-1.23)(908,-1.17)(912,-1.20)(916,-1.27)(920,-1.34)(924,-1.66)(928,-1.50)(932,-1.38)(936,-1.30)(940,-1.23)(944,-1.27)(948,-1.34)(952,-1.30)(956,-1.34)(960,-1.27)(964,-1.15)(968,-1.03)(972,-0.94)(976,-0.72)(980,-0.60)(984,-0.48)(988,-0.37)(992,-0.23)(996,-0.25)(1000,-0.37)(1004,-0.45)(1008,-0.72)(1012,-0.88)(1016,-1.03)(1020,-1.15)(1024,-1.50)(1028,-1.54)(1032,-1.70)(1036,-1.95)(1040,-2.20)(1045,-2.40)(1050,-2.50)(1055,-2.45)(1060,-2.20)(1064,-1.98)(1068,-1.85)(1072,-1.80)(1076,-1.73)(1080,-1.72)(1084,-1.70)(1088,-1.62)(1092,-1.58)(1096,-1.62)(1100,-1.54)(1104,-1.48)(1108,-1.50)(1112,-1.46)(1116,-1.58)(1120,-1.54)(1124,-1.52)(1128,-1.56)(1132,-1.58)(1136,-1.62)(1140,-1.66)(1144,-1.70)(1148,-1.72)(1152,-1.70)(1156,-1.73)(1160,-1.66)(1164,-1.54)(1168,-1.50)(1172,-1.42)(1176,-1.34)(1180,-1.27)(1184,-1.19)(1188,-1.07)(1192,-0.88)(1196,-0.80)(1200,-0.76)(1204,-0.52)(1208,-0.48)(1212,-0.41)(1216,-0.33)(1220,-0.29)(1224,-0.13)(1228,-0.09)(1232,0.02)(1236,0.08)(1240,0.10)(1244,0.08)(1248,0.10)(1252,0.08)(1256,0.13)(1260,0.16)(1264,0.14)(1268,0.18)(1272,0.18)(1276,0.14)(1280,0.02)(1284,-0.05)(1288,-0.13)(1292,-0.17)(1296,-0.19)(1300,-0.19)(1304,-0.31)(1308,-0.37)(1312,-0.45)(1316,-0.41)(1320,-0.39)(1324,-0.21)(1328,-0.09)(1332,-0.02)(1336,0.00)(1340,-0.03)(1344,-0.08)(1348,-0.17)(1352,-0.13)(1356,-0.09)(1360,-0.11)(1364,-0.09)(1368,-0.13)(1372,-0.16)(1376,-0.19)(1380,-0.23)(1384,-0.27)(1388,-0.21)(1392,-0.17)(1396,-0.09)(1400,-0.16)(1404,-0.11)(1408,-0.08)(1412,-0.03)(1416,-0.09)(1420,-0.11)(1424,-0.13)(1428,-0.11)(1432,-0.09)(1436,-0.13)(1440,-0.09)(1444,-0.13)(1448,-0.02)(1452,0.02)(1456,0.00)(1460,0.06)(1464,0.13)(1468,0.18)(1472,0.18)(1476,0.20)(1480,0.18)(1484,0.23)(1488,0.20)(1492,0.18)(1496,0.16)(1500,0.14)(1504,0.13)(1508,0.16)};
\end{axis}
% ---------- row labels
\begin{scope}[every node/.style={font=\fontsize{10.8}{13}\selectfont, text=tickc, anchor=center, inner sep=0pt}]
\node at (50.4pt,-93.96pt) {Reduced Purity};
\node at (40.18pt,-294.48pt) {Berry Phase};
\node at (59.4pt,-495.29pt) {QFI};
\node at (50.4pt,-695.95pt) {Spectral Entropy};
\node at (50.4pt,-896.62pt) {Multi-Lag Fidelity};
\node at (50.4pt,-1097.28pt) {Hamiltonian Sens.};
\node at (50.4pt,-1297.94pt) {Dim. Collapse};
\end{scope}
\node[inner sep=0pt, text=black] at (372.0pt,-1152.5pt) {\scalebox{0.9}[1]{\fontsize{22.4}{24}\selectfont$15$}};
\pgfresetboundingbox
\useasboundingbox (0pt,0pt) rectangle (739.44pt,-1337.76pt);
\end{tikzpicture}
\end{document}
